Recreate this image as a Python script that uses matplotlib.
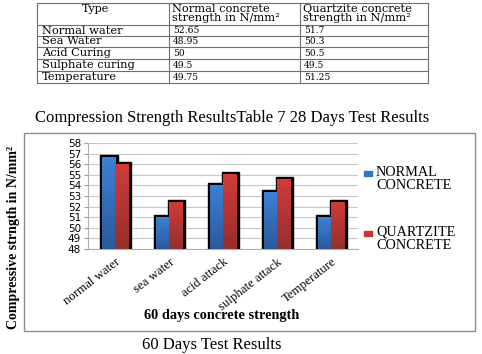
import numpy as np
import matplotlib
matplotlib.use('Agg')
import matplotlib.pyplot as plt
from matplotlib.patches import Rectangle
from matplotlib.transforms import ScaledTranslation

# --- Table 7: 28 days results ---
table_types = ['Normal water', 'Sea Water', 'Acid Curing', 'Sulphate curing', 'Temperature']
table_normal = ['52.65', '48.95', '50', '49.5', '49.75']
table_quartz = ['51.7', '50.3', '50.5', '49.5', '51.25']
table_header = ['Type', 'Normal concrete\nstrength in N/mm\u00b2',
                'Quartzite concrete\nstrength in N/mm\u00b2']

# --- 60 days chart ---
categories = ['normal water', 'sea water', 'acid attack', 'sulphate attack', 'Temperature']
normal_60 = [56.65, 51.05, 54.05, 53.35, 51.0]
quartz_60 = [56.0, 52.45, 55.1, 54.6, 52.45]
series_names = ['NORMAL\nCONCRETE', 'QUARTZITE\nCONCRETE']

SERIF = 'Liberation Serif'
TSERIF = 'DejaVu Serif'
W, H = 482, 354

fig = plt.figure(figsize=(W / 100, H / 100), dpi=100)

# background axes in pixel coordinates for table, captions and frame
bg = fig.add_axes([0, 0, 1, 1])
bg.set_xlim(0, W)
bg.set_ylim(H, 0)
bg.axis('off')

# --- table ---
col_x = [37, 169, 300, 428]
row_y = [3, 25, 36, 47, 59, 71, 83]
lc = '#6f6f6f'
for x in col_x:
    bg.plot([x, x], [row_y[0], row_y[-1]], color=lc, lw=0.8)
for y in row_y:
    bg.plot([col_x[0], col_x[-1]], [y, y], color=lc, lw=0.8)

bg.text(96, 9, table_header[0], family=TSERIF,
        fontsize=8, ha='center', va='center')
for i in (1, 2):
    bg.text(col_x[i] + 3, 13.5, table_header[i], family=TSERIF, fontsize=8.2,
            ha='left', va='center', linespacing=0.95)
for r in range(len(table_types)):
    yc = (row_y[r + 1] + row_y[r + 2]) / 2
    bg.text(col_x[0] + 5, yc, table_types[r], family=TSERIF, fontsize=8.2,
            ha='left', va='center')
    bg.text(col_x[1] + 4, yc, table_normal[r], family=TSERIF, fontsize=6.6,
            ha='left', va='center')
    bg.text(col_x[2] + 4, yc, table_quartz[r], family=TSERIF, fontsize=6.6,
            ha='left', va='center')

bg.text(35, 118, 'Compression Strength ResultsTable 7 28 Days Test Results',
        family=SERIF, fontsize=12.0, ha='left', va='center')

# chart frame
bg.add_patch(Rectangle((24, 133), 451, 198, fill=False, edgecolor='#8c8c8c', lw=1))
bg.text(14, 237, 'Compressive strngth in N/mm\u00b2', family=SERIF, fontsize=10,
        fontweight='bold', rotation=90, ha='center', va='center')
bg.text(222, 316, '60 days concrete strength', family=SERIF, fontsize=10.3,
        fontweight='bold', ha='center', va='center')
bg.text(212, 345, '60 Days Test Results', family=SERIF, fontsize=12,
        ha='center', va='center')

# legend
blue = '#3572c6'
red = '#c83533'
for yy, col, name in [(173, blue, series_names[0]), (233, red, series_names[1])]:
    bg.add_patch(Rectangle((364, yy - 2.5), 8, 5, color=col))
    bg.text(376, yy - 7, name, family=SERIF, fontsize=10.3, ha='left', va='top',
            linespacing=1.0)

# --- bar chart ---
ax = fig.add_axes([88 / W, 1 - 249 / H, 270 / W, 106 / H])
x = np.arange(len(categories))
bw = 0.25


def gradient_bar(ax, xc, val, top_col, bot_col):
    # black shadow / outline behind the bar
    ax.add_patch(Rectangle((xc - bw / 2 - 0.02, 48), bw + 0.07, val - 48 + 0.18,
                           color='black', zorder=2))
    rect = Rectangle((xc - bw / 2, 48), bw, val - 48, facecolor='none',
                     edgecolor='none', zorder=3)
    ax.add_patch(rect)
    grad = np.linspace(0, 1, 64).reshape(-1, 1)
    c1 = np.array(matplotlib.colors.to_rgb(top_col))
    c2 = np.array(matplotlib.colors.to_rgb(bot_col))
    img = c2 + (c1 - c2) * grad
    im = ax.imshow(img.reshape(64, 1, 3), extent=(xc - bw / 2, xc + bw / 2, 48, val),
                   origin='lower', aspect='auto', zorder=3)
    im.set_clip_path(rect)


for i in range(len(categories)):
    gradient_bar(ax, x[i] - bw / 2, normal_60[i], '#3d80d6', '#2b5a9c')
for i in range(len(categories)):
    gradient_bar(ax, x[i] + bw / 2, quartz_60[i], '#d23b38', '#962f2d')

ax.set_xlim(-0.5, len(categories) - 0.5)
ax.set_ylim(48, 58)
ax.set_yticks(np.arange(48, 59, 1))
ax.yaxis.grid(True, color='#c8c8c8', lw=0.8)
ax.set_axisbelow(True)
ax.set_xticks(x)
ax.set_xticklabels(categories, rotation=38, ha='right', rotation_mode='anchor',
                   family=SERIF, fontsize=9.3)
shift = ScaledTranslation(6 / 100, 0, fig.dpi_scale_trans)
for lab in ax.get_xticklabels():
    lab.set_transform(lab.get_transform() + shift)
ax.tick_params(axis='y', labelsize=7.5, length=3, color='#a0a0a0', pad=2)
ax.tick_params(axis='x', length=0, pad=5)
for s in ['top', 'right']:
    ax.spines[s].set_visible(False)
ax.spines['left'].set_color('#b0b0b0')
ax.spines['bottom'].set_color('#b0b0b0')

fig.savefig('out.png', dpi=100)
